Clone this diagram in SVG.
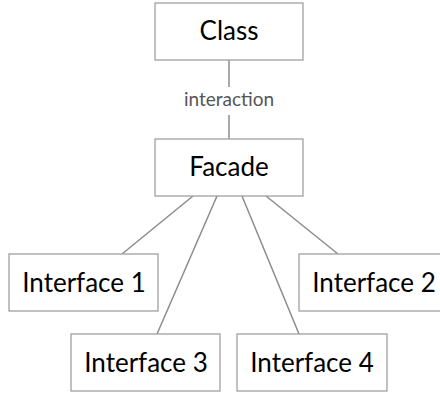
<svg xmlns="http://www.w3.org/2000/svg" width="440" height="394" viewBox="0 0 440 394">
<style>
.box{fill:#fff;stroke:#a0a0a0;stroke-width:1.3}
.lbl{font-family:Lato,"Liberation Sans",sans-serif;font-size:26px;fill:#000;text-anchor:middle}
.edge{stroke:#8c8c8c;stroke-width:1.5;fill:none}
.elbl{font-family:Lato,"Liberation Sans",sans-serif;font-size:19px;fill:#555;text-anchor:middle}
</style>
<rect width="440" height="394" fill="#fff"/>
<g id="connectors">
<line class="edge" x1="229" y1="60" x2="229" y2="87"/>
<line class="edge" x1="229" y1="115" x2="229" y2="139"/>
<text class="elbl" x="229" y="106">interaction</text>
<line class="edge" x1="193" y1="196" x2="122" y2="254"/>
<line class="edge" x1="266" y1="196" x2="338" y2="254"/>
<line class="edge" x1="217" y1="196" x2="157" y2="334"/>
<line class="edge" x1="242" y1="196" x2="299" y2="334"/>
</g>
<g id="class"><rect class="box" x="155" y="3" width="148" height="57"/><text class="lbl" x="229" y="40">Class</text></g>
<g id="facade"><rect class="box" x="155" y="139" width="148" height="57"/><text class="lbl" x="229" y="176">Facade</text></g>
<g id="interface1"><rect class="box" x="9" y="254" width="149" height="57"/><text class="lbl" x="84" y="292">Interface 1</text></g>
<g id="interface2"><rect class="box" x="299" y="254" width="150" height="57"/><text class="lbl" x="374" y="292">Interface 2</text></g>
<g id="interface3"><rect class="box" x="71" y="334" width="149" height="57"/><text class="lbl" x="146" y="372">Interface 3</text></g>
<g id="interface4"><rect class="box" x="237" y="334" width="150" height="57"/><text class="lbl" x="312" y="372">Interface 4</text></g>
</svg>
